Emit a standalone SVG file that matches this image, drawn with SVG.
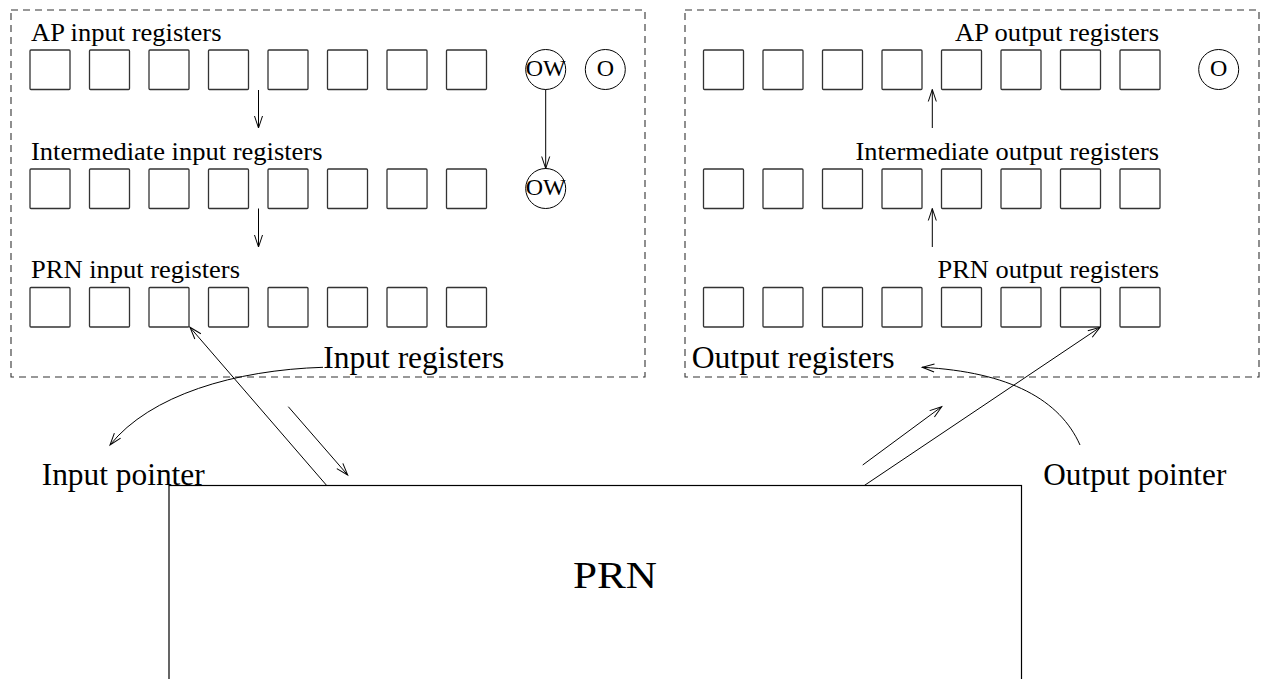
<svg xmlns="http://www.w3.org/2000/svg" width="1261" height="679" viewBox="0 0 1261 679">
<style>
.bg{fill:#fff}
.frame{fill:none;stroke:#333;stroke-width:1.1;stroke-dasharray:7 5}
.reg{fill:#fff;stroke:#333;stroke-width:1.3}
.circ{fill:#fff;stroke:#000;stroke-width:1}
.prn{fill:#fff;stroke:#000;stroke-width:1.2}
.lbl{font-family:"Liberation Serif","Times New Roman",serif;font-size:25.5px;fill:#000}
.big{font-family:"Liberation Serif","Times New Roman",serif;font-size:31px;fill:#000}
.huge{font-family:"Liberation Serif","Times New Roman",serif;font-size:38px;fill:#000}
.ctext{font-family:"Liberation Serif","Times New Roman",serif;font-size:24px;fill:#000;text-anchor:middle}
.con{fill:none;stroke:#000;stroke-width:1}
</style>
<defs>
<marker id="ah" markerUnits="userSpaceOnUse" markerWidth="14" markerHeight="10" refX="12" refY="4.5" orient="auto" overflow="visible">
<path d="M0,0.5 L12,4.5 L0,8.5" fill="none" stroke="#000" stroke-width="1"/>
</marker>
</defs>
<rect class="bg" x="0" y="0" width="1261" height="679"/>

<g id="input-registers">
<rect class="frame" x="11" y="10" width="634" height="367"/>
<text class="big" x="323.3" y="368.3" textLength="181" lengthAdjust="spacingAndGlyphs">Input registers</text>
</g>
<g id="output-registers">
<rect class="frame" x="685" y="10" width="574" height="367"/>
<text class="big" x="691.7" y="368.3" textLength="203" lengthAdjust="spacingAndGlyphs">Output registers</text>
</g>

<g id="ap-input-registers">
<text class="lbl" x="31" y="40.5" textLength="190.5" lengthAdjust="spacingAndGlyphs">AP input registers</text>
<rect class="reg" x="30" y="50" width="40" height="39.5" rx="1"/>
<rect class="reg" x="89.5" y="50" width="40" height="39.5" rx="1"/>
<rect class="reg" x="149" y="50" width="40" height="39.5" rx="1"/>
<rect class="reg" x="208.5" y="50" width="40" height="39.5" rx="1"/>
<rect class="reg" x="268" y="50" width="40" height="39.5" rx="1"/>
<rect class="reg" x="327.5" y="50" width="40" height="39.5" rx="1"/>
<rect class="reg" x="387" y="50" width="40" height="39.5" rx="1"/>
<rect class="reg" x="446.5" y="50" width="40" height="39.5" rx="1"/>
</g>
<g id="ap-input-ow">
<circle class="circ" cx="545.7" cy="69.5" r="20"/>
<text class="ctext" x="545.7" y="76">OW</text>
</g>
<g id="ap-input-o">
<circle class="circ" cx="605.3" cy="69.5" r="20"/>
<text class="ctext" x="605.3" y="76">O</text>
</g>

<g id="intermediate-input-registers">
<text class="lbl" x="31" y="159.5" textLength="291.5" lengthAdjust="spacingAndGlyphs">Intermediate input registers</text>
<rect class="reg" x="30" y="169" width="40" height="39.5" rx="1"/>
<rect class="reg" x="89.5" y="169" width="40" height="39.5" rx="1"/>
<rect class="reg" x="149" y="169" width="40" height="39.5" rx="1"/>
<rect class="reg" x="208.5" y="169" width="40" height="39.5" rx="1"/>
<rect class="reg" x="268" y="169" width="40" height="39.5" rx="1"/>
<rect class="reg" x="327.5" y="169" width="40" height="39.5" rx="1"/>
<rect class="reg" x="387" y="169" width="40" height="39.5" rx="1"/>
<rect class="reg" x="446.5" y="169" width="40" height="39.5" rx="1"/>
</g>
<g id="intermediate-input-ow">
<circle class="circ" cx="545.7" cy="188.5" r="20"/>
<text class="ctext" x="545.7" y="195">OW</text>
</g>

<g id="prn-input-registers">
<text class="lbl" x="31" y="277.5" textLength="209" lengthAdjust="spacingAndGlyphs">PRN input registers</text>
<rect class="reg" x="30" y="287.5" width="40" height="39.5" rx="1"/>
<rect class="reg" x="89.5" y="287.5" width="40" height="39.5" rx="1"/>
<rect class="reg" x="149" y="287.5" width="40" height="39.5" rx="1"/>
<rect class="reg" x="208.5" y="287.5" width="40" height="39.5" rx="1"/>
<rect class="reg" x="268" y="287.5" width="40" height="39.5" rx="1"/>
<rect class="reg" x="327.5" y="287.5" width="40" height="39.5" rx="1"/>
<rect class="reg" x="387" y="287.5" width="40" height="39.5" rx="1"/>
<rect class="reg" x="446.5" y="287.5" width="40" height="39.5" rx="1"/>
</g>

<g id="ap-output-registers">
<text class="lbl" x="955" y="40.5" textLength="204" lengthAdjust="spacingAndGlyphs">AP output registers</text>
<rect class="reg" x="703.5" y="50" width="40" height="39.5" rx="1"/>
<rect class="reg" x="763" y="50" width="40" height="39.5" rx="1"/>
<rect class="reg" x="822.5" y="50" width="40" height="39.5" rx="1"/>
<rect class="reg" x="882" y="50" width="40" height="39.5" rx="1"/>
<rect class="reg" x="941.5" y="50" width="40" height="39.5" rx="1"/>
<rect class="reg" x="1001" y="50" width="40" height="39.5" rx="1"/>
<rect class="reg" x="1060.5" y="50" width="40" height="39.5" rx="1"/>
<rect class="reg" x="1120" y="50" width="40" height="39.5" rx="1"/>
</g>
<g id="ap-output-o">
<circle class="circ" cx="1218.7" cy="69.5" r="20"/>
<text class="ctext" x="1218.7" y="76">O</text>
</g>

<g id="intermediate-output-registers">
<text class="lbl" x="855.5" y="159.5" textLength="303.5" lengthAdjust="spacingAndGlyphs">Intermediate output registers</text>
<rect class="reg" x="703.5" y="169" width="40" height="39.5" rx="1"/>
<rect class="reg" x="763" y="169" width="40" height="39.5" rx="1"/>
<rect class="reg" x="822.5" y="169" width="40" height="39.5" rx="1"/>
<rect class="reg" x="882" y="169" width="40" height="39.5" rx="1"/>
<rect class="reg" x="941.5" y="169" width="40" height="39.5" rx="1"/>
<rect class="reg" x="1001" y="169" width="40" height="39.5" rx="1"/>
<rect class="reg" x="1060.5" y="169" width="40" height="39.5" rx="1"/>
<rect class="reg" x="1120" y="169" width="40" height="39.5" rx="1"/>
</g>

<g id="prn-output-registers">
<text class="lbl" x="937.5" y="277.5" textLength="221.5" lengthAdjust="spacingAndGlyphs">PRN output registers</text>
<rect class="reg" x="703.5" y="287.5" width="40" height="39.5" rx="1"/>
<rect class="reg" x="763" y="287.5" width="40" height="39.5" rx="1"/>
<rect class="reg" x="822.5" y="287.5" width="40" height="39.5" rx="1"/>
<rect class="reg" x="882" y="287.5" width="40" height="39.5" rx="1"/>
<rect class="reg" x="941.5" y="287.5" width="40" height="39.5" rx="1"/>
<rect class="reg" x="1001" y="287.5" width="40" height="39.5" rx="1"/>
<rect class="reg" x="1060.5" y="287.5" width="40" height="39.5" rx="1"/>
<rect class="reg" x="1120" y="287.5" width="40" height="39.5" rx="1"/>
</g>

<g id="prn">
<rect class="prn" x="169" y="485.5" width="852.5" height="230"/>
<text class="huge" x="573" y="588" textLength="84" lengthAdjust="spacingAndGlyphs">PRN</text>
</g>

<g id="input-pointer">
<text class="big" x="41.7" y="485" textLength="163" lengthAdjust="spacingAndGlyphs">Input pointer</text>
</g>
<g id="output-pointer">
<text class="big" x="1043.3" y="485" textLength="183" lengthAdjust="spacingAndGlyphs">Output pointer</text>
</g>

<g id="connectors">
<line class="con" x1="258.5" y1="90" x2="258.5" y2="128" marker-end="url(#ah)"/>
<line class="con" x1="258.5" y1="208.5" x2="258.5" y2="247" marker-end="url(#ah)"/>
<line class="con" x1="545.7" y1="89.5" x2="545.7" y2="168.5" marker-end="url(#ah)"/>
<line class="con" x1="932.3" y1="128" x2="932.3" y2="89.5" marker-end="url(#ah)"/>
<line class="con" x1="932.3" y1="247" x2="932.3" y2="208.5" marker-end="url(#ah)"/>
<line class="con" x1="326.7" y1="485.5" x2="190" y2="327.3" marker-end="url(#ah)"/>
<line class="con" x1="288.3" y1="406.7" x2="347.7" y2="475" marker-end="url(#ah)"/>
<path class="con" d="M323,367.3 C235,370 150,395 110,445" marker-end="url(#ah)"/>
<line class="con" x1="864.3" y1="485.5" x2="1100" y2="327.3" marker-end="url(#ah)"/>
<line class="con" x1="862.7" y1="465" x2="941.7" y2="406.7" marker-end="url(#ah)"/>
<path class="con" d="M1080,445 C1060,400 1010,372 922.3,367.3" marker-end="url(#ah)"/>
</g>
</svg>
